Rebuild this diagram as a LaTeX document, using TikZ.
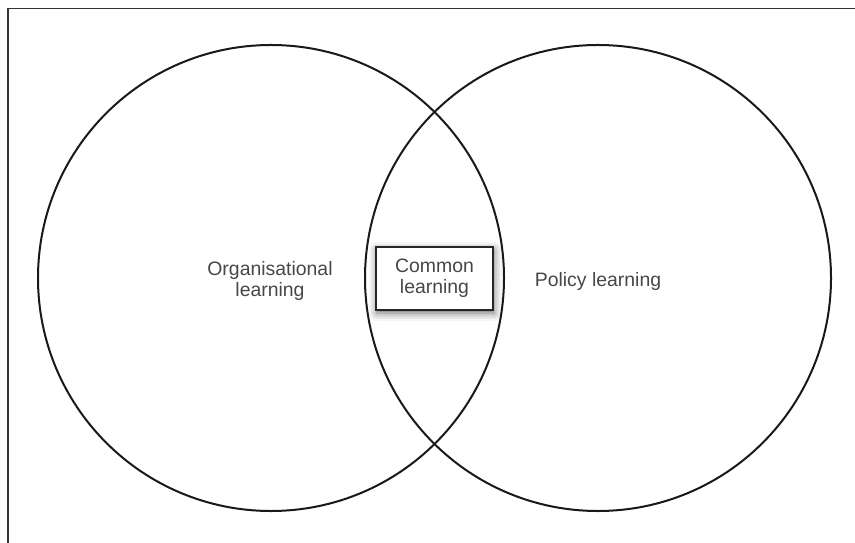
\documentclass[tikz,border=0pt]{standalone}
\usepackage{fontspec}
\setmainfont{Liberation Sans}
\usetikzlibrary{shadows, shadows.blur}
\usetikzlibrary{positioning}

\begin{document}
\begin{tikzpicture}
            [x=1bp,y=-1bp,
            every node/.style={font=\fontsize{19.5}{21.5}\selectfont,text=black!72,align=center},
            ring/.style={circle,draw=black!90,line width=2bp,minimum size=466bp,inner sep=0pt},
            commonbox/.style={draw=black!85,fill=white,line width=1.1bp,minimum width=117bp,minimum height=63bp,inner sep=0pt,
                blur shadow={shadow xshift=1bp,shadow yshift=-3bp,shadow blur radius=8bp,shadow opacity=60}}]
            \useasboundingbox (0,0) rectangle (855,543);
            \draw[black!80,line width=1.4bp] (855,8.5) -- (8,8.5) -- (8,543);
            \node(org) [ring] at (271,278) {};
            \node(pol) [ring] at (598,278) {};
            \node(orgtext) at (270,281) {Organisational\\learning};
            \node(poltext) at (598,281) {Policy learning};
            \node(common) [commonbox] at (434.5,278.5) {Common\\learning};
        \end{tikzpicture}
\end{document}
